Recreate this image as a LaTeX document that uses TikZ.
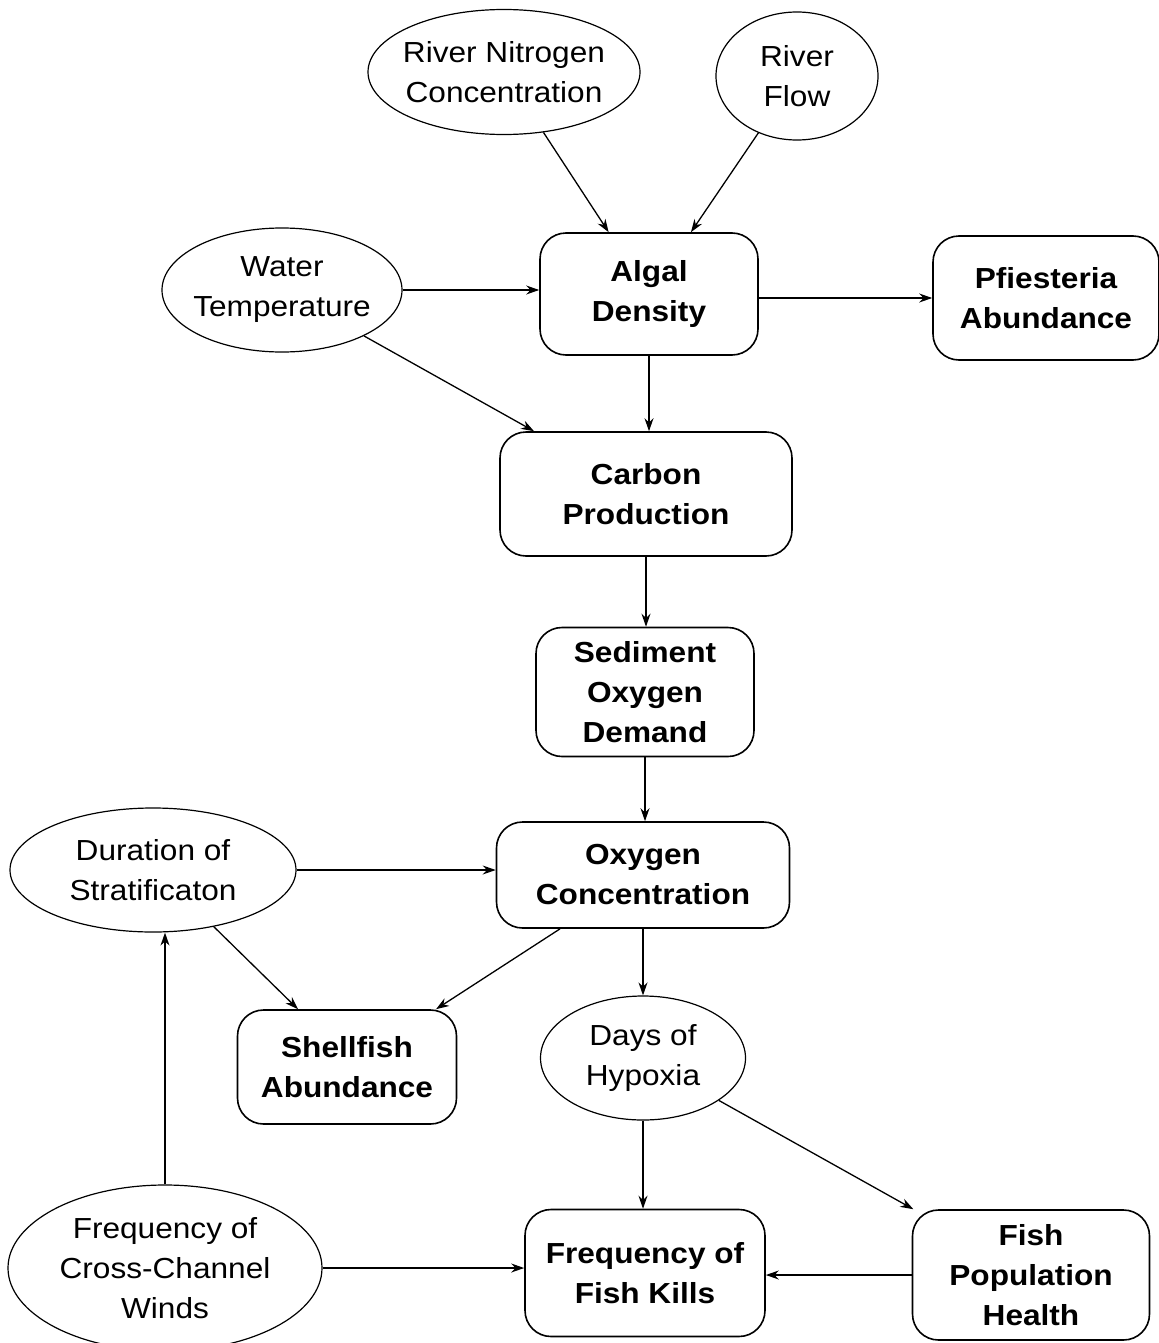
\documentclass[tikz,border=0pt]{standalone}
\usepackage{fontspec}
\setmainfont[FakeStretch=1.09]{Liberation Sans}
\usetikzlibrary{shapes.geometric,arrows.meta}
\begin{document}
\begin{tikzpicture}[x=0.5pt,y=-0.5pt,
  every node/.style={font=\fontsize{14.5}{20}\selectfont, align=center, inner sep=0pt},
  oval/.style={draw, ellipse, line width=0.6pt, inner sep=-12pt},
  rbox/.style={draw, rounded corners=13pt, line width=0.8pt, font=\fontsize{14.5}{20}\selectfont\bfseries},
  arr/.style={-{Stealth[length=6.5pt,width=4.5pt]}, line width=0.65pt}]
\useasboundingbox (0,0) rectangle (1159,1343);
% ellipses
\node[oval, minimum width=136pt, minimum height=62.5pt] (rn) at (504,72) {River Nitrogen\\Concentration};
\node[oval, minimum width=81pt, minimum height=64pt] (rf) at (797,76) {River\\Flow};
\node[oval, minimum width=120pt, minimum height=62pt] (wt) at (282,290) {Water\\Temperature};
\node[oval, minimum width=143pt, minimum height=62pt] (du) at (153,870) {Duration of\\Stratificaton};
\node[oval, minimum width=102.5pt, minimum height=62pt] (dh) at (643,1058) {Days of\\Hypoxia};
\node[oval, minimum width=157pt, minimum height=83pt] (wi) at (165,1268) {Frequency of\\Cross-Channel\\Winds};
% boxes
\node[rbox, minimum width=109pt, minimum height=61pt] (ad) at (649,294) {Algal\\Density};
\node[rbox, minimum width=113pt, minimum height=62pt] (pf) at (1046,298) {Pfiesteria\\Abundance};
\node[rbox, minimum width=146pt, minimum height=62pt] (cp) at (646,494) {Carbon\\Production};
\node[rbox, minimum width=109pt, minimum height=64.5pt] (sd) at (645,692) {Sediment\\Oxygen\\Demand};
\node[rbox, minimum width=146.5pt, minimum height=53pt] (ox) at (643,875) {Oxygen\\Concentration};
\node[rbox, minimum width=109.5pt, minimum height=57pt] (sh) at (347,1067) {Shellfish\\Abundance};
\node[rbox, minimum width=120pt, minimum height=63.5pt] (fk) at (645,1273) {Frequency of\\Fish Kills};
\node[rbox, minimum width=118.5pt, minimum height=65pt] (fp) at (1031,1275) {Fish\\Population\\Health};
% connectors
\draw[arr] (rn) -- (ad);
\draw[arr] (rf) -- (ad);
\draw[arr] (wt.east) -- (wt.east -| ad.west);
\draw[arr] (pf.west -| ad.east) -- (pf.west);
\draw[arr] (wt) -- (cp);
\draw[arr] (ad.south) -- (ad.south |- cp.north);
\draw[arr] (cp.south) -- (cp.south |- sd.north);
\draw[arr] (sd.south) -- (sd.south |- ox.north);
\draw[arr] (du.east) -- (du.east -| ox.west);
\draw[arr] (du.-43) -- (sh.north west -| 298,0);
\draw[arr] (ox) -- (sh);
\draw[arr] (ox.south) -- (ox.south |- dh.north);
\draw[arr] (dh.south) -- (dh.south |- fk.north);
\draw[arr] (dh) -- (fp);
\draw[arr] (wi.north) -- (wi.north |- du.south);
\draw[arr] (wi.east) -- (wi.east -| fk.west);
\draw[arr] (fp.west) -- (fp.west -| fk.east);
\end{tikzpicture}
\end{document}
